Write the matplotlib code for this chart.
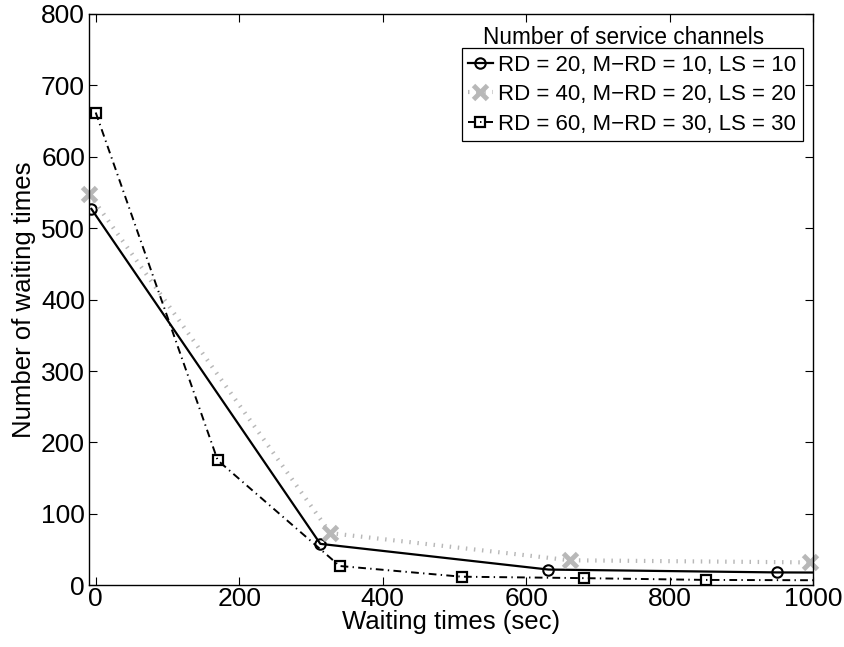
import matplotlib
matplotlib.use("Agg")
import matplotlib.pyplot as plt

plt.rcParams["font.family"] = ["Liberation Sans", "DejaVu Sans"]

# waiting-time bin centres (sec) and counts per configuration
x_a = [-6, 313, 631, 949, 1268]
y_a = [527, 58, 22, 18, 17]
x_b = [-9, 327, 661, 996]
y_b = [548, 73, 35, 32]
x_c = [0, 170, 340, 510, 680, 850, 1020]
y_c = [662, 175, 27, 12, 10, 7.5, 7]

labels = ["RD = 20, M\u2212RD = 10, LS = 10",
          "RD = 40, M\u2212RD = 20, LS = 20",
          "RD = 60, M\u2212RD = 30, LS = 30"]
legend_title = "Number of service channels"

xticks = [0, 200, 400, 600, 800, 1000]
yticks = [0, 100, 200, 300, 400, 500, 600, 700, 800]

fig = plt.figure(figsize=(8.44, 6.47), dpi=100)
ax = fig.add_axes([0.1049, 0.0954, 0.9636 - 0.1049, 0.9784 - 0.0954])

ax.plot(x_a, y_a, color="black", linestyle="-", linewidth=1.6,
        marker="o", markersize=7.5, markerfacecolor="none",
        markeredgewidth=1.5, label=labels[0], clip_on=True)
ax.plot(x_b, y_b, color="0.72", linestyle=(0, (0.35, 1.6)), linewidth=3,
        marker="x", markersize=10, markeredgewidth=3.5,
        label=labels[1], clip_on=False)
ax.plot(x_c, y_c, color="black", linestyle=(0, (4, 2.2, 0.7, 2.2)),
        linewidth=1.4, marker="s", markersize=7, markerfacecolor="none",
        markeredgewidth=1.6, label=labels[2], clip_on=True)

ax.set_xlim(-10, 1000)
ax.set_ylim(0, 800)
ax.set_xticks(xticks)
ax.set_yticks(yticks)
ax.tick_params(direction="in", top=True, right=True, labelsize=19,
               length=6, width=0.8, pad=2.5)
ax.tick_params(axis="x", pad=1)
for s in ax.spines.values():
    s.set_linewidth(1.0)

ax.set_xlabel("Waiting times (sec)", fontsize=18.5, labelpad=-0.5)
ax.set_ylabel("Number of waiting times", fontsize=18.5, labelpad=4)

leg = ax.legend(loc="upper right", bbox_to_anchor=(803 / 844, 1 - 48 / 647),
                bbox_transform=fig.transFigure, fontsize=16,
                fancybox=False, framealpha=1, edgecolor="black",
                handlelength=1.1, handletextpad=0.25, borderpad=0.3,
                labelspacing=0.38, borderaxespad=0)
leg.get_frame().set_linewidth(0.9)
fig.text(624 / 844, 1 - 37 / 647, legend_title, fontsize=16.3,
         ha="center", va="center")

fig.savefig("out.png", dpi=100)
